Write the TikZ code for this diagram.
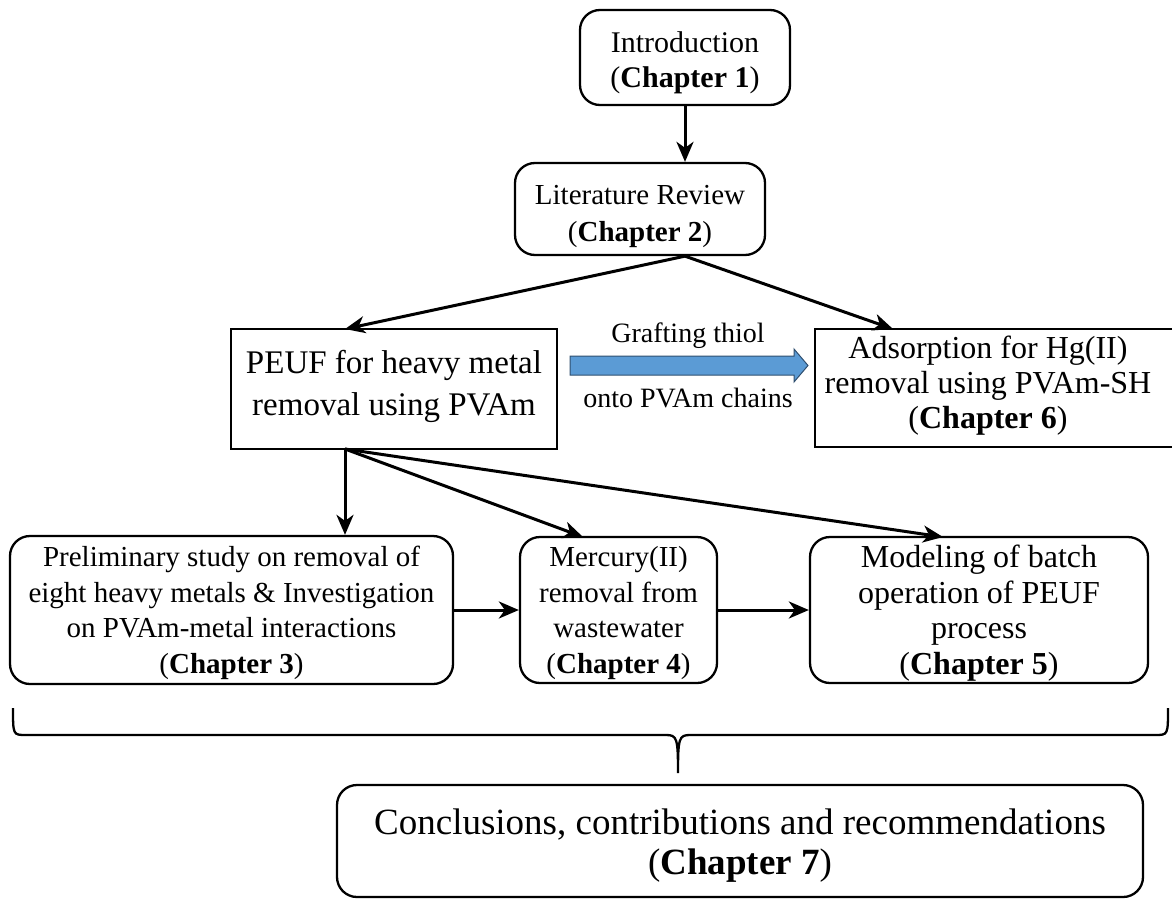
\documentclass[tikz,border=0pt]{standalone}
\usepackage{fontspec}
\setmainfont{Liberation Serif}
\usetikzlibrary{arrows.meta,calc}
\definecolor{arrowblue}{HTML}{5B9BD5}
\definecolor{arrowedge}{HTML}{2F4F6F}
\begin{document}
\begin{tikzpicture}[x=1pt,y=-1pt,
  box/.style={draw, line width=2.3pt, inner sep=0pt},
  rbox/.style={box, rounded corners=20pt},
  txt/.style={align=center, inner sep=0pt, font=\fontsize{29}{36}\selectfont},
  arr/.style={line width=3pt, -{Stealth[length=20pt,width=17pt,inset=6pt]}},
  lbl/.style={align=center, inner sep=0pt, font=\fontsize{28}{30}\selectfont}]
\useasboundingbox (0,0) rectangle (1172,899);
% boxes
\node[rbox, minimum width=210, minimum height=95] (intro) at (685,57.5) {};
\node[rbox, minimum width=250, minimum height=92] (lit) at (640,209) {};
\node[box, minimum width=326, minimum height=120] (peuf) at (394,389) {};
\node[box, minimum width=365, minimum height=118] (ads) at (997.5,388) {};
\node[rbox, minimum width=443, minimum height=148] (ch3) at (231.5,610) {};
\node[rbox, minimum width=197, minimum height=146] (ch4) at (618.5,610) {};
\node[rbox, minimum width=338, minimum height=146] (ch5) at (979,610) {};
\node[rbox, minimum width=806, minimum height=112] (ch7) at (740,841) {};
% texts
\node[txt, font=\fontsize{30}{35}\selectfont] (introT) at ($(intro)+(0,5)$) {Introduction\\(\textbf{Chapter 1})};
\node[txt, font=\fontsize{29}{37}\selectfont] (litT) at ($(lit)+(0,7)$) {Literature Review\\(\textbf{Chapter 2})};
\node[txt, font=\fontsize{33}{42}\selectfont] (peufT) at ($(peuf)+(0,-3)$) {PEUF for heavy metal\\removal using PVAm};
\node[txt, font=\fontsize{32}{35}\selectfont] (adsT) at (988,386) {Adsorption for Hg(II)\\removal using PVAm-SH\\(\textbf{Chapter 6})};
\node[txt, font=\fontsize{29}{35.5}\selectfont] (ch3T) at ($(ch3)+(0,3)$) {Preliminary study on removal of\\eight heavy metals \& Investigation\\on PVAm-metal interactions\\(\textbf{Chapter 3})};
\node[txt, font=\fontsize{29}{35.5}\selectfont] (ch4T) at ($(ch4)+(0,3)$) {Mercury(II)\\removal from\\wastewater\\(\textbf{Chapter 4})};
\node[txt, font=\fontsize{32}{35.5}\selectfont] (ch5T) at ($(ch5)+(0,3)$) {Modeling of batch\\operation of PEUF\\process\\(\textbf{Chapter 5})};
\node[txt, font=\fontsize{37}{40}\selectfont] (ch7T) at ($(ch7)+(0,5)$) {Conclusions, contributions and recommendations\\(\textbf{Chapter 7})};
\node[lbl] (graft) at (688,336) {Grafting thiol};
\node[lbl] (onto) at (688,398) {onto PVAm chains};
% blue block arrow
\draw[fill=arrowblue, draw=arrowedge, line width=1pt] (570,356) -- (794,356) -- (794,349) -- (808,365.5) -- (794,382) -- (794,375) -- (570,375) -- cycle;
% connectors
\coordinate (litb) at (intro.south |- lit.south);
\coordinate (peuft) at (345,329);
\coordinate (adst) at (893,329);
\coordinate (peufb) at (345,449);
\coordinate (ch4t) at (583,537);
\coordinate (ch5t) at (943,537);
\draw[arr] (intro.south) -- (intro.south |- lit.north);
\draw[arr] (litb) -- (peuft);
\draw[arr] (litb) -- (adst);
\draw[arr] (peufb) -- (peufb |- ch3.north);
\draw[arr] (peufb) -- (ch4t);
\draw[arr] (peufb) -- (ch5t);
\draw[arr] (ch3.east) -- (ch4.west);
\draw[arr] (ch4.east) -- (ch5.west);
% brace
\coordinate (bl) at (13,708);
\coordinate (br) at (1168,708);
\coordinate (btip) at (678,773);
\draw[line width=2.3pt] (bl) .. controls (13,735) and (13,735) .. (26,735) -- (666,735) .. controls (677,735) and (678,738) .. (btip)
  .. controls (678,738) and (679,735) .. (690,735) -- (1155,735) .. controls (1168,735) and (1168,735) .. (br);
\end{tikzpicture}
\end{document}
